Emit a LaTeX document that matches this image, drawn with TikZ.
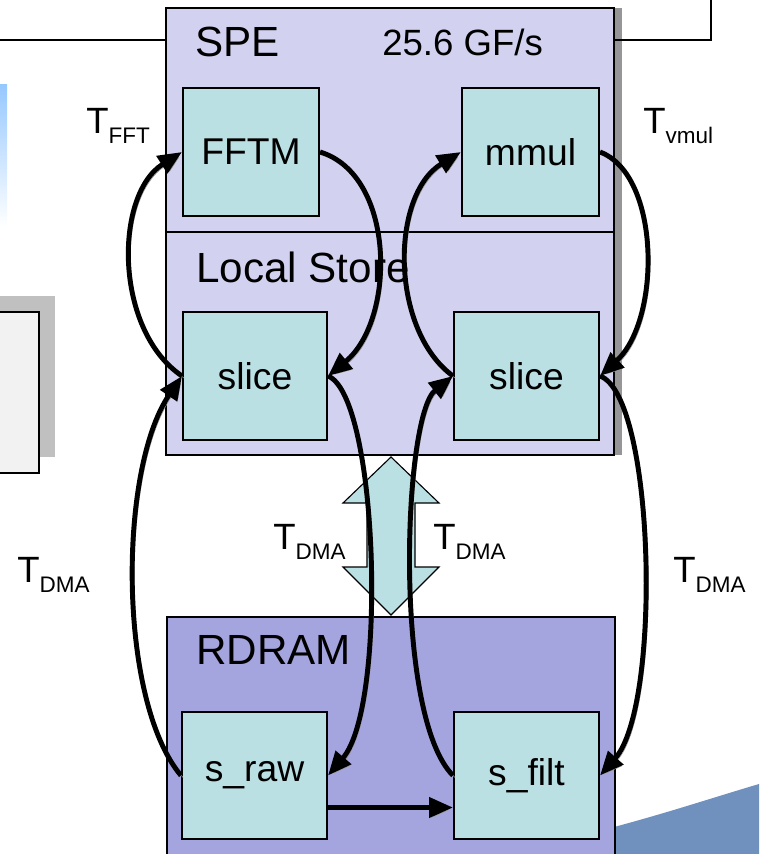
\documentclass[tikz,border=0pt]{standalone}
\usepackage{fontspec}
\setmainfont{Liberation Sans}
\usetikzlibrary{arrows.meta}
\definecolor{spefill}{RGB}{210,210,240}
\definecolor{rdramfill}{RGB}{164,164,222}
\definecolor{cellfill}{RGB}{186,224,227}
\definecolor{shadowgray}{RGB}{150,150,150}
\definecolor{boxshadow}{RGB}{192,192,192}
\definecolor{boxfill}{RGB}{242,242,242}
\definecolor{swooshblue}{RGB}{112,145,190}
\definecolor{fadeblue}{RGB}{150,200,255}
\newcommand{\tsub}[1]{T\raisebox{-7.8pt}{\fontsize{16}{19}\selectfont #1}}

\begin{document}
\begin{tikzpicture}[x=0.025cm,y=-0.025cm]
    \pgfmathsetmacro{\cellh}{3.2}
    \tikzset{box/.style={draw,line width=1.4pt,inner sep=0pt},
        cell/.style={box,fill=cellfill,minimum height=\cellh cm,font=\fontsize{26.5}{31}\selectfont},
        lbl/.style={inner sep=0pt,anchor=west,font=\fontsize{30}{36}\selectfont},
        tlbl/.style={inner sep=0pt,anchor=base west,font=\fontsize{26}{31}\selectfont},
        flow/.style={line width=3.5pt,-{Triangle[length=17pt,width=14pt]},preaction={draw=shadowgray,transform canvas={shift={(1.5pt,-1.5pt)}}}}}
    \useasboundingbox (0,0) rectangle (759,854);
    \clip (0,0) rectangle (759,854);
    \shade[top color=fadeblue,bottom color=white] (0,85) rectangle (7,227);
    \fill[boxshadow] (0,296) rectangle (55,457);
    \draw[line width=1.4pt,fill=boxfill] (-5,312) rectangle (39,473);
    \fill[swooshblue] (614,827) .. controls (670,812) and (715,797) .. (759,784) -- (759,854) -- (614,854) -- cycle;
    \fill[shadowgray] (174,8) rectangle (622,455);
    \node[box,fill=spefill,minimum width=11.2cm,minimum height=11.175cm] (spe) at (390,231.5) {};
    \node[box,fill=rdramfill,minimum width=11.2cm,minimum height=6.5cm,anchor=north west] (rdram) at (166,616) {};
    \coordinate (topl) at (0,40);
    \coordinate (topr) at (711,0);
    \coordinate (sep) at (166,232);
    \draw[line width=1.4pt] (topl) -- (topl -| spe.west);
    \draw[line width=1.4pt] (spe.east |- topl) -- (topr |- topl) -- (topr);
    \draw[line width=1.4pt] (sep) -- (sep -| spe.east);
    \draw[line width=0.8pt,fill=cellfill] (391,457) -- (439,503) -- (415,503) -- (415,567) -- (439,567) -- (391,615) -- (343,567) -- (367,567) -- (367,503) -- (343,503) -- cycle;
    \node[lbl] (spelbl) at (195,42) {SPE};
    \node[lbl,font=\fontsize{26}{31}\selectfont] (gflops) at (382,42) {25.6 GF/s};
    \node[lbl] (lslbl) at (196,267) {Local Store};
    \node[lbl] (rdramlbl) at (196,650) {RDRAM};
    \node[cell,minimum width=3.4cm] (fftm) at (251,152) {FFTM};
    \node[cell,minimum width=3.425cm] (mmul) at (530.5,152) {mmul};
    \node[cell,minimum width=3.6cm] (slicel) at (255,376) {slice};
    \node[cell,minimum width=3.625cm] (slicer) at (526.5,376) {slice};
    \node[cell,minimum width=3.625cm,minimum height=3.175cm] (sraw) at (254.5,775.5) {s\_raw};
    \node[cell,minimum width=3.625cm,minimum height=3.175cm] (sfilt) at (526.5,775.5) {s\_filt};
    \draw[flow] (fftm.east) .. controls +(76,23) and +(68,-56) .. (slicel.east);
    \draw[flow] (slicel.west) .. controls +(-68,-46) and +(-68,43) .. (fftm.west);
    \draw[flow] (mmul.east) .. controls +(61,23) and +(61,-56) .. (slicer.east);
    \draw[flow] (slicer.west) .. controls +(-63,-46) and +(-71,43) .. (mmul.west);
    \draw[flow] (sraw.west) .. controls +(-63,-75) and +(-64,94) .. (slicel.west);
    \draw[flow] (slicel.east) .. controls +(50,20) and +(60,-70) .. (sraw.east);
    \draw[flow] (sfilt.west) .. controls +(-60,-60) and +(-50,40) .. (slicer.west);
    \draw[flow] (slicer.east) .. controls +(55,20) and +(62,-70) .. (sfilt.east);
    \draw[flow] ([yshift=-0.8cm]sraw.east) -- ([yshift=-0.8cm]sfilt.west);
    \node[tlbl] (tfft) at (86,133) {\tsub{FFT}};
    \node[tlbl] (tvmul) at (643,133) {\tsub{vmul}};
    \node[tlbl] (tdmal) at (17,582) {\tsub{DMA}};
    \node[tlbl] (tdmaml) at (273,549) {\tsub{DMA}};
    \node[tlbl] (tdmamr) at (433,549) {\tsub{DMA}};
    \node[tlbl] (tdmar) at (673,582) {\tsub{DMA}};
\end{tikzpicture}
\end{document}
